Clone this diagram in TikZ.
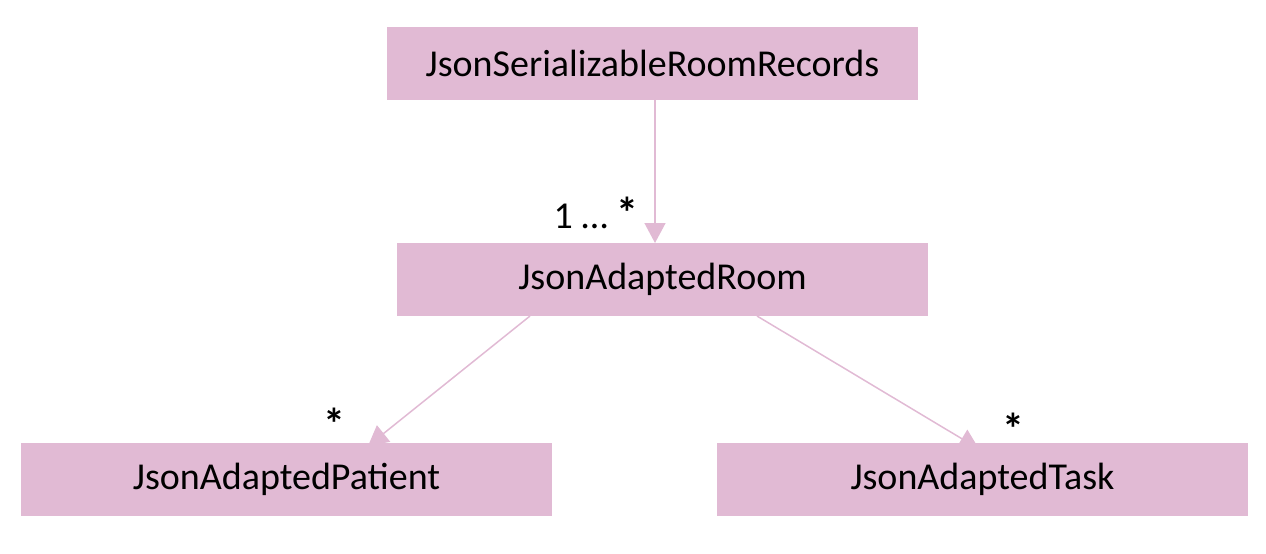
\documentclass[tikz,border=0pt]{standalone}
\usepackage{fontspec}
\setmainfont{Carlito}
\usetikzlibrary{arrows.meta,backgrounds}
\definecolor{pinkbox}{HTML}{E1BAD4}
\tikzset{
  cls/.style={fill=pinkbox, draw=none, minimum width=531pt, minimum height=73pt, inner sep=0pt, font=\fontsize{38}{46}\selectfont, text=black},
  conn/.style={draw=pinkbox, line width=1.5pt, -{Triangle[width=21pt,length=20pt]}},
  mult/.style={font=\fontsize{38}{46}\selectfont, text=black, inner sep=0pt}
}
\newcommand{\bigast}{\textbf{\fontsize{44}{46}\selectfont *}}
\begin{document}
\begin{tikzpicture}[x=1pt,y=-1pt]
\useasboundingbox (0,0) rectangle (1266,554);
\node[cls] (records) at (652.5,63) {JsonSerializableRoomRecords};
\node[cls] (room) at (662.5,279.5) {JsonAdaptedRoom};
\node[cls] (patient) at (286.5,479.5) {JsonAdaptedPatient};
\node[cls] (task) at (982.5,479.5) {JsonAdaptedTask};
\begin{scope}[on background layer]
\coordinate (r1) at (655,99.5);
\coordinate (r2) at (655,243);
\coordinate (p1) at (530,316);
\coordinate (p2) at (368,446);
\coordinate (t1) at (757,316);
\coordinate (t2) at (979,449);
\draw[conn] (r1) -- (r2);
\draw[conn] (p1) -- (p2);
\draw[conn] (t1) -- (t2);
\end{scope}
\node[mult] (m1) at (596,213) {1 … \bigast};
\node[mult] (m2) at (334,424) {\bigast};
\node[mult] (m3) at (1013,429) {\bigast};
\end{tikzpicture}
\end{document}
